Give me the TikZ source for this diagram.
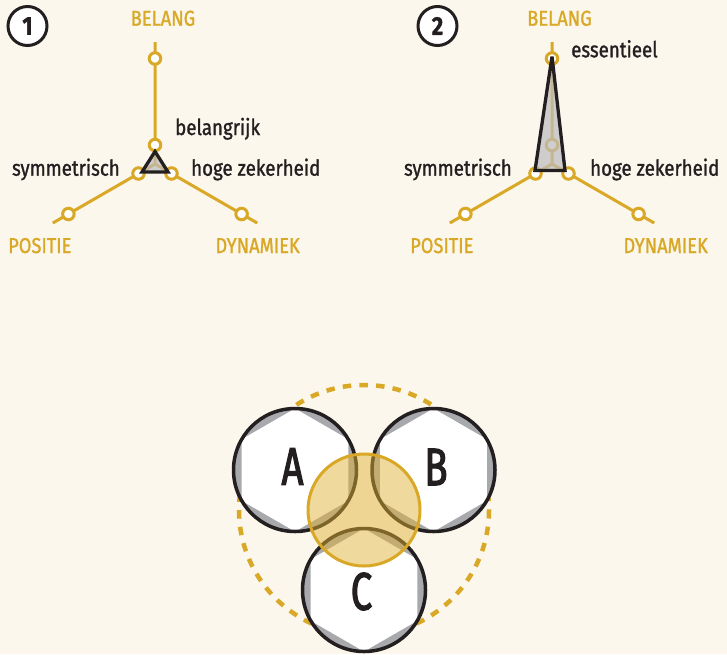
\documentclass[tikz,border=0pt]{standalone}
\usepackage{fontspec}
\setmainfont{Fira Sans}[FakeStretch=0.85, FakeBold=1.2]
\newfontfamily\capsfont{Fira Sans}[FakeStretch=0.72, FakeBold=2.2]
\definecolor{paper}{RGB}{252,247,236}
\definecolor{gold}{RGB}{216,168,38}
\definecolor{ink}{RGB}{35,31,32}
\definecolor{nutgray}{RGB}{168,169,173}
\definecolor{wedge}{RGB}{188,188,190}
\definecolor{honey}{RGB}{224,176,50}
\tikzset{
  axis/.style={draw=gold, line width=3pt},
  ring/.style={circle, draw=gold, fill=white, line width=3pt, minimum size=11.5pt, inner sep=0pt},
  profile/.style={draw=ink, fill=wedge, fill opacity=0.7, line width=3.3pt, line join=miter, miter limit=4},
  axislabel/.style={text=gold, inner sep=0pt, font=\fontsize{21.5}{24}\selectfont},
  valuelabel/.style={text=ink, inner sep=0pt, font=\fontsize{22}{24}\selectfont},
  badge/.style={circle, draw=ink, fill=white, line width=3pt, minimum size=39pt, inner sep=0pt, text=ink, font=\bfseries\fontsize{26}{28}\selectfont},
  bigletter/.style={text=ink, inner sep=0pt, font=\capsfont\fontsize{53}{56}\selectfont},
  orbit/.style={draw=gold, line width=4.5pt, dash pattern=on 8.5pt off 8.2pt},
  hub/.style={draw=gold, fill=honey, fill opacity=0.48, line width=3pt},
  rim/.style={draw=ink, line width=3.5pt},
}
\begin{document}
\begin{tikzpicture}[x=1pt, y=-1pt]
\useasboundingbox (0,0) rectangle (727,654);
\fill[paper] (0,0) rectangle (727,654);

% ---------- profile 1 ----------
\node[badge] (n1) at (27.5,26) {1};
\coordinate (c1) at (155,164);
\coordinate (e1t) at (155,42);
\coordinate (e1l) at (52.8,223);
\coordinate (e1r) at (257.2,223);
\draw[axis] (c1) -- (e1t) (c1) -- (e1l) (c1) -- (e1r);
\node[ring] (o1t) at (155,58.5) {};
\node[ring] (o1l) at (68.4,214) {};
\node[ring] (o1r) at (241.6,214) {};
\node[ring] (i1t) at (155,145) {};
\node[ring] (i1l) at (138.5,173.5) {};
\node[ring] (i1r) at (171.5,173.5) {};
\coordinate (t1a) at (155,151.5);
\coordinate (t1b) at (142,172);
\coordinate (t1c) at (168,172);
\draw[profile] (t1a) -- (t1b) -- (t1c) -- cycle;
\node[axislabel, anchor=base] (b1) at (163,25.7) {BELANG};
\node[axislabel, anchor=base west] (p1) at (8,253) {POSITIE};
\node[axislabel, anchor=base east] (d1) at (300,253) {DYNAMIEK};
\node[valuelabel, anchor=base west] (v1t) at (175,135) {belangrijk};
\node[valuelabel, anchor=base east] (v1l) at (120,175.7) {symmetrisch};
\node[valuelabel, anchor=base west] (v1r) at (191,175.7) {hoge zekerheid};

% ---------- profile 2 ----------
\node[badge] (n2) at (437.5,26) {2};
\coordinate (c2) at (552,164);
\coordinate (e2t) at (552,42);
\coordinate (e2l) at (449.8,223);
\coordinate (e2r) at (654.2,223);
\draw[axis] (c2) -- (e2t) (c2) -- (e2l) (c2) -- (e2r);
\node[ring] (o2t) at (552,58.5) {};
\node[ring] (o2l) at (465.4,214) {};
\node[ring] (o2r) at (638.6,214) {};
\node[ring] (i2t) at (552,145) {};
\node[ring] (i2l) at (535.5,173.5) {};
\node[ring] (i2r) at (568.5,173.5) {};
\coordinate (t2a) at (552,56.5);
\coordinate (t2b) at (535,170.5);
\coordinate (t2c) at (565,170.5);
\draw[profile] (t2a) -- (t2b) -- (t2c) -- cycle;
\node[axislabel, anchor=base] (b2) at (559.5,25.7) {BELANG};
\node[axislabel, anchor=base west] (p2) at (410,253) {POSITIE};
\node[axislabel, anchor=base east] (d2) at (708,253) {DYNAMIEK};
\node[valuelabel, anchor=base west] (v2t) at (571,57.3) {essentieel};
\node[valuelabel, anchor=base east] (v2l) at (512,175.7) {symmetrisch};
\node[valuelabel, anchor=base west] (v2r) at (590,175.7) {hoge zekerheid};

% ---------- three nuts around a common hub ----------
\coordinate (ctr) at (364,510);
\coordinate (cA) at (295,470);
\coordinate (cB) at (433.5,470);
\coordinate (cC) at (364,590);
\draw[orbit] (ctr) circle[radius=125];
\foreach \c in {cA,cB,cC}{
  \fill[nutgray] (\c) circle[radius=61.5];
  \fill[white] ([shift={(90:61.5)}]\c) -- ([shift={(150:61.5)}]\c) -- ([shift={(210:61.5)}]\c)
     -- ([shift={(270:61.5)}]\c) -- ([shift={(330:61.5)}]\c) -- ([shift={(30:61.5)}]\c) -- cycle;
  \draw[rim] (\c) circle[radius=61.5];
}
\node[bigletter] (lA) at (292.5,466.5) {A};
\node[bigletter] (lB) at (436,467) {B};
\node[bigletter] (lC) at (361.5,591.5) {C};
\draw[hub] (ctr) circle[radius=56];
\end{tikzpicture}
\end{document}
